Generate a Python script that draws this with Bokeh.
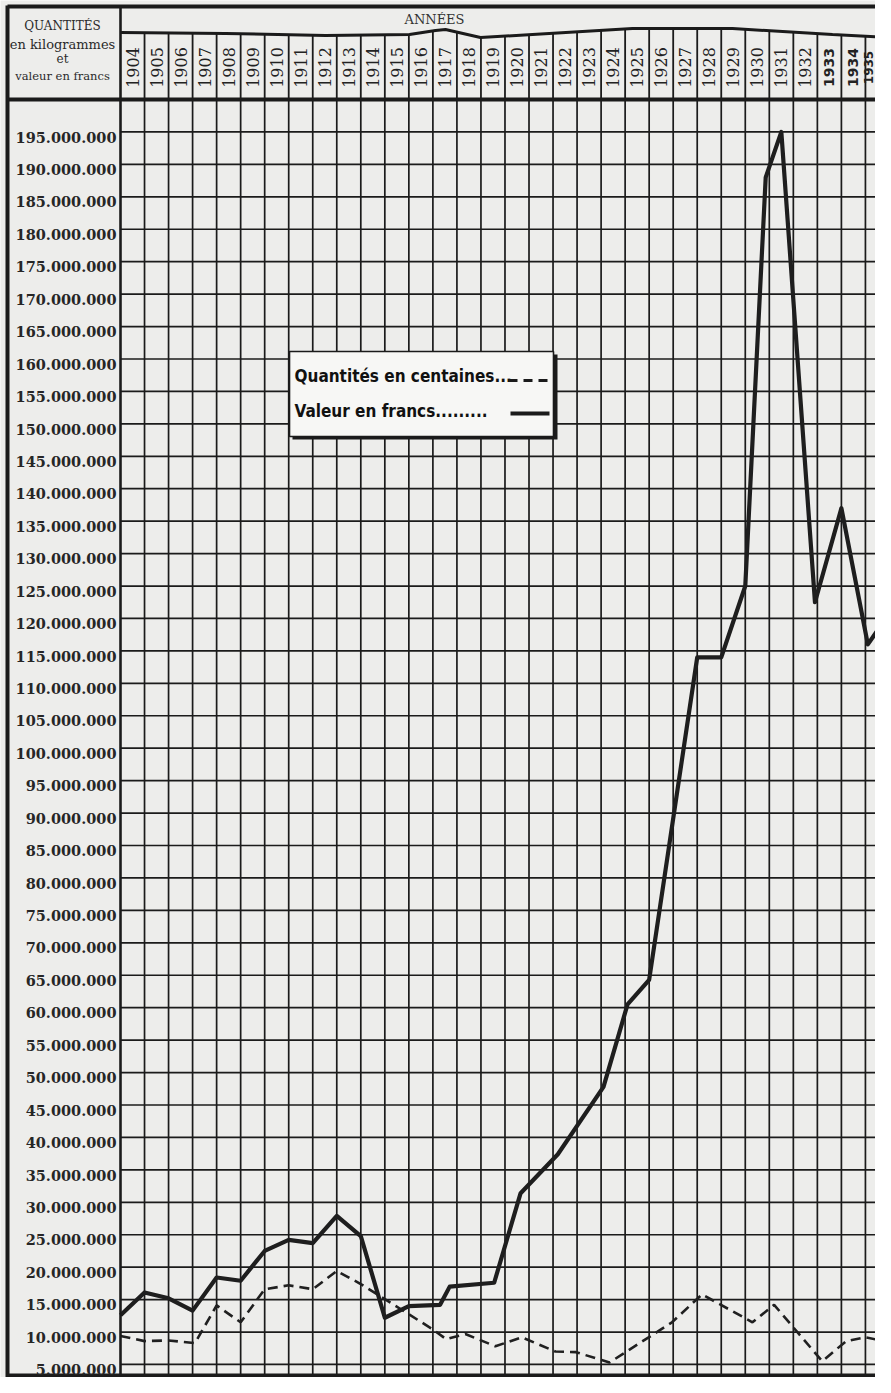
import math
from bokeh.plotting import figure
from bokeh.models import Range1d
from bokeh.core.properties import value
from bokeh.embed import file_html
from bokeh.resources import INLINE

# ---------------- data ----------------
years = list(range(1904, 1936))
year_labels = [str(y) for y in years]

tick_values = list(range(5, 200, 5))          # millions
tick_labels = ["{:,}".format(v * 1_000_000).replace(",", ".") for v in tick_values]

# Valeur en francs (millions) - positions in years as drawn on the chart
valeur_x = [1904, 1905, 1906, 1907, 1908, 1909, 1910, 1911, 1912, 1913, 1914, 1915,
            1916, 1917.3, 1917.7, 1919.55, 1920.65, 1922.2, 1924.1, 1925.1, 1926,
            1928, 1929, 1930, 1930.85, 1931.5, 1932.9, 1934.0, 1935.1, 1935.75]
valeur_m = [12.6, 16.1, 15.2, 13.3, 18.4, 17.9, 22.5, 24.2, 23.7, 27.9, 24.8, 12.2,
            14.0, 14.2, 17.0, 17.6, 31.4, 37.4, 47.8, 60.5, 64.3,
            114.0, 114.0, 125.0, 188.0, 195.0, 122.5, 137.0, 116.0, 119.5]

# Quantités en centaines (millions)
quant_x = [1904, 1905, 1906, 1907.1, 1908, 1909, 1910, 1911, 1912, 1913, 1914,
           1917, 1917.55, 1918.35, 1919.6, 1920.7, 1922.1, 1922.95, 1924.35,
           1926.95, 1928.2, 1930.3, 1931.2, 1933.2, 1934.2, 1935.0, 1935.75]
quant_m = [9.4, 8.6, 8.7, 8.3, 14.1, 11.5, 16.6, 17.2, 16.6, 19.4, 17.4,
           10.4, 8.9, 9.7, 7.8, 9.2, 7.0, 6.9, 5.3,
           11.5, 15.8, 11.5, 14.2, 5.5, 8.6, 9.2, 8.6]

# ---------------- layout helpers (page pixels -> data) ----------------
def X(px):
    return 1904 + (px - 128) / 24.03

def Y(py):
    return 200 - (py - 107) / 6.487

PAPER = "#ededeb"
INK = "#1b1b1b"
SERIF = value("DejaVu Serif")
SANS_B = value("DejaVu Sans")
COND = value("'DejaVu Sans Condensed', 'Liberation Sans Narrow', sans-serif")

p = figure(width=875, height=1377,
           x_range=Range1d(X(8), X(883)), y_range=Range1d(Y(1385), Y(8)),
           output_backend="svg", toolbar_location=None, min_border=0,
           x_axis_location=None, y_axis_location=None,
           background_fill_color=PAPER, border_fill_color=PAPER,
           outline_line_color=None)
p.grid.visible = False

x_end = X(895)
bottom = Y(1383)

# grid: vertical lines at each year border, horizontal every 5 millions
p.segment(x0=years[1:], y0=[bottom] * (len(years) - 1), x1=years[1:], y1=[200] * (len(years) - 1),
          line_color=INK, line_width=1.7)
p.segment(x0=[1904] * len(tick_values), y0=tick_values, x1=[x_end] * len(tick_values), y1=tick_values,
          line_color=INK, line_width=1.7)

# data lines
p.line(quant_x, quant_m, line_color="#202020", line_width=2.6, line_dash="10 6")
p.line(valeur_x, valeur_m, line_color="#1e1e1e", line_width=4.2, line_join="round")

# frame
p.segment(x0=[X(15), X(15), X(15), 1904, X(15)],
          y0=[Y(14), 200, bottom, Y(14), Y(13)],
          x1=[x_end, x_end, x_end, 1904, X(15)],
          y1=[Y(14), 200, bottom, bottom, Y(1385)],
          line_color=INK, line_width=[4, 4, 4, 2.6, 4])

# header wavy line under "ANNÉES" and column dividers
wave_px = [128, 233, 333, 417, 443, 453, 488, 540, 640, 740, 840, 895]
wave_py = [40, 41, 43, 42, 38, 37, 45, 42, 36, 36, 42, 45]
wx = [X(v) for v in wave_px]
wy = [Y(v) for v in wave_py]
p.line(wx, wy, line_color=INK, line_width=3)

def interp(x, xs, ys):
    for i in range(len(xs) - 1):
        if xs[i] <= x <= xs[i + 1]:
            t = (x - xs[i]) / (xs[i + 1] - xs[i])
            return ys[i] + t * (ys[i + 1] - ys[i])
    return ys[-1]

hx = years[1:]
p.segment(x0=hx, y0=[interp(x, wx, wy) for x in hx], x1=hx, y1=[200] * len(hx),
          line_color=INK, line_width=1.8)

p.text(x=[X(442)], y=[Y(27)], text=["ANNÉES"], text_font=SERIF, text_font_size="13px",
       text_align="center", text_baseline="middle", text_color="#333333")

# year labels (rotated)
serif_years = [y for y in years if y < 1933]
sans_years = [y for y in years if 1933 <= y < 1935]
p.text(x=[y + 0.5 for y in serif_years], y=[Y(75)] * len(serif_years),
       text=[str(y) for y in serif_years], angle=math.pi / 2,
       text_font=SERIF, text_font_size="16px", text_align="center",
       text_baseline="middle", text_color="#222222")
p.text(x=[y + 0.5 for y in sans_years], y=[Y(75)] * len(sans_years),
       text=[str(y) for y in sans_years], angle=math.pi / 2,
       text_font=SANS_B, text_font_style="bold", text_font_size="14px", text_align="center",
       text_baseline="middle", text_color="#222222")
# last column is cut by the right edge: keep its label just inside
p.text(x=[X(876)], y=[Y(75)], text=[year_labels[-1]], angle=math.pi / 2,
       text_font=SANS_B, text_font_style="bold", text_font_size="12px", text_align="center",
       text_baseline="middle", text_color="#222222")

# left header cell
p.text(x=[X(70)] * 4, y=[Y(33), Y(52), Y(66), Y(83)],
       text=["QUANTITÉS", "en kilogrammes", "et", "valeur en francs"],
       text_font=SERIF, text_font_size=["12px", "13px", "12px", "11.5px"],
       text_align="center", text_baseline="middle", text_color="#2a2a2a")

# value labels (left scale)
p.text(x=[X(124)] * len(tick_values), y=[v - 0.8 for v in tick_values], text=tick_labels,
       text_font=SERIF, text_font_style="bold", text_font_size="14.5px",
       text_align="right", text_baseline="middle", text_color="#262626")

# legend box
p.quad(left=[X(300)], right=[X(565)], top=[Y(362)], bottom=[Y(447)],
       fill_color=INK, line_color=None)
p.quad(left=[X(297)], right=[X(561)], top=[Y(359)], bottom=[Y(444)],
       fill_color="#f7f7f5", line_color=INK, line_width=1.6)
p.text(x=[X(302), X(302)], y=[Y(383), Y(418)],
       text=["Quantités en centaines...", "Valeur en francs........."],
       text_font=COND, text_font_style="bold", text_font_size="17px", text_align="left",
       text_baseline="middle", text_color="#111111")
p.segment(x0=[X(516)], y0=[Y(388)], x1=[X(558)], y1=[Y(388)],
          line_color=INK, line_width=2.8, line_dash="9 6")
p.segment(x0=[X(518)], y0=[Y(421)], x1=[X(557)], y1=[Y(421)],
          line_color=INK, line_width=4)

open("out.html", "w").write(file_html(p, INLINE))
